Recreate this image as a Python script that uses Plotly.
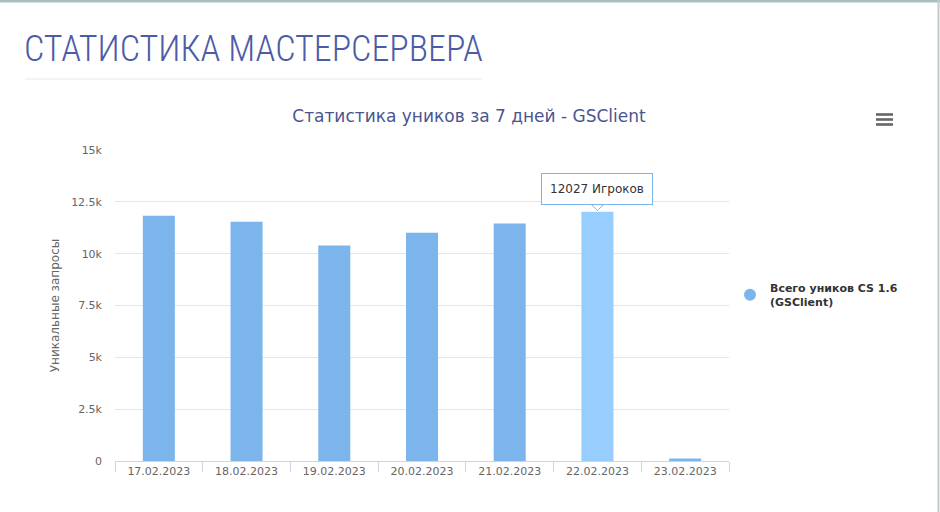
import plotly.graph_objects as go

categories = ["17.02.2023", "18.02.2023", "19.02.2023", "20.02.2023",
              "21.02.2023", "22.02.2023", "23.02.2023"]
values = [11830, 11540, 10390, 11010, 11450, 12027, 115]
series_name = "Всего уников CS 1.6<br>(GSClient)"
y_tickvals = [0, 2500, 5000, 7500, 10000, 12500, 15000]
y_ticktext = ["0", "2.5k", "5k", "7.5k", "10k", "12.5k", "15k"]
hover_index = 5
tooltip_text = f"{values[hover_index]} Игроков"

BASE = "#7cb5ec"
HOVER = "#97cdff"
colors = [HOVER if i == hover_index else BASE for i in range(len(values))]

L, R, T, B = 115, 211, 150, 51
W, H = 940, 512
pw, ph = W - L - R, H - T - B


def px(x):
    return (x - L) / pw


def py(y):
    return (H - B - y) / ph


fig = go.Figure()
fig.add_trace(go.Bar(x=categories, y=values, marker=dict(color=colors, line=dict(width=0)),
                     showlegend=False, hoverinfo="skip"))
fig.add_trace(go.Scatter(x=[None], y=[None], mode="markers", name=series_name,
                         marker=dict(symbol="circle", size=12, color=BASE)))

shapes = [
    # header underline
    dict(type="line", xref="paper", yref="paper", x0=px(25), x1=px(482), y0=py(79), y1=py(79),
         line=dict(color="#e9e9e9", width=1)),
    # top border
    dict(type="line", xref="paper", yref="paper", x0=px(0), x1=px(940), y0=py(1), y1=py(1),
         line=dict(color="#a9bfbf", width=3)),
    # right border
    dict(type="line", xref="paper", yref="paper", x0=px(938.5), x1=px(938.5), y0=py(0), y1=py(512),
         line=dict(color="#c3cccc", width=2)),
]
for yy in (114.5, 119.5, 124.5):
    shapes.append(dict(type="rect", xref="paper", yref="paper", x0=px(876), x1=px(893),
                       y0=py(yy - 1.3), y1=py(yy + 1.3), line=dict(width=0), fillcolor="#666666"))
# tooltip pointer
shapes.append(dict(type="path", xref="x", yref="y", xsizemode="pixel", ysizemode="pixel",
                   xanchor=categories[hover_index], yanchor=values[hover_index],
                   path="M -6,7 L 0,1 L 6,7 Z", fillcolor="#ffffff",
                   line=dict(color=BASE, width=1)))

annotations = [
    dict(text="СТАТИСТИКА МАСТЕРСЕРВЕРА", xref="paper", yref="paper", x=px(22), y=py(49),
         xanchor="left", yanchor="middle", showarrow=False,
         font=dict(family="Roboto Condensed, Liberation Sans Narrow, DejaVu Sans Condensed, sans-serif",
                   size=36, color="#4c5ba6", weight=300)),
    dict(text=tooltip_text, xref="x", yref="y", x=categories[hover_index], y=values[hover_index],
         xanchor="center", yanchor="bottom", yshift=7, showarrow=False,
         bgcolor="rgba(255,255,255,0.97)", bordercolor=BASE, borderwidth=1, borderpad=8,
         font=dict(family="DejaVu Sans, Verdana, sans-serif", size=12, color="#333333")),
]

fig.update_layout(
    width=W, height=H,
    margin=dict(l=L, r=R, t=T, b=B),
    paper_bgcolor="white", plot_bgcolor="white",
    bargap=0.635,
    title=dict(text="Статистика уников за 7 дней - GSClient", x=469 / W, xref="container",
               y=1 - 116 / H, yref="container", xanchor="center", yanchor="middle",
               font=dict(family="DejaVu Sans, Verdana, sans-serif", size=17, color="#4a5590")),
    font=dict(family="DejaVu Sans, Verdana, sans-serif", color="#666666"),
    xaxis=dict(type="category", showgrid=False, showline=True, linecolor="#ccd6eb", linewidth=1,
               ticks="outside", tickson="boundaries", ticklen=10, tickcolor="#ccd6eb",
               tickfont=dict(size=11, color="#666666"), zeroline=False, fixedrange=True),
    yaxis=dict(range=[0, 15000], tickvals=y_tickvals, ticktext=y_ticktext, showgrid=True,
               gridcolor="#e6e6e6", gridwidth=1, zeroline=False, showline=False,
               tickfont=dict(size=11, color="#666666"), ticklabelstandoff=12,
               title=dict(text="Уникальные запросы", font=dict(size=12, color="#666666"), standoff=8)),
    legend=dict(x=px(730), y=py(295), xanchor="left", yanchor="middle",
                font=dict(size=11, color="#333333", weight="bold"),
                bgcolor="rgba(0,0,0,0)", itemsizing="constant"),
    shapes=shapes,
    annotations=annotations,
    hovermode=False,
)

fig.write_html("out.html")
